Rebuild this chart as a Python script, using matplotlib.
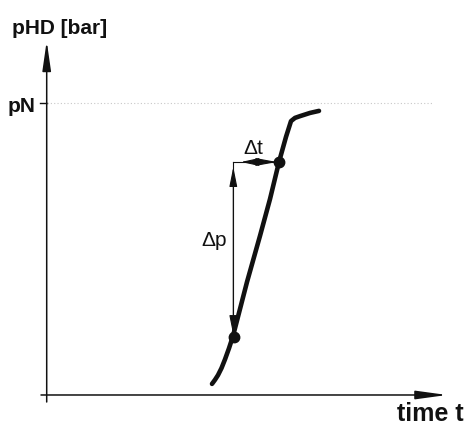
import matplotlib
matplotlib.use("Agg")
import matplotlib.pyplot as plt

# ---- data (t in arbitrary time units, p relative to pN = 1) ----
curve_t = [1.653, 1.683, 1.713, 1.748, 1.783, 1.823, 1.863, 2.003, 2.133, 2.233, 2.323, 2.393, 2.443, 2.483, 2.533, 2.633, 2.723]
curve_p = [0.038, 0.052, 0.068, 0.092, 0.122, 0.160, 0.202, 0.387, 0.545, 0.671, 0.798, 0.884, 0.938, 0.949, 0.955, 0.966, 0.973]
marker_t = [1.868, 2.323]
marker_p = [0.200, 0.798]
pN = 1.0
y_label = "pHD [bar]"
x_label = "time t"
tick_label = "pN"
dp_label = "Δp"
dt_label = "Δt"

FONT = ["Liberation Sans Narrow", "Liberation Sans", "DejaVu Sans"]

fig = plt.figure(figsize=(4.65, 4.27), dpi=100)
ax = fig.add_axes([0, 0, 1, 1])
ax.set_xlim(-0.467, 4.183)
ax.set_ylim(-0.1062, 1.3562)
ax.axis("off")

# axes with arrows
ax.annotate("", xy=(0, 1.212), xytext=(0, -0.024),
            arrowprops=dict(arrowstyle="-|>,head_length=18,head_width=2.6", mutation_scale=1,
                            lw=1.1, color="#111111", shrinkA=0, shrinkB=0))
ax.annotate("", xy=(4.003, 0), xytext=(-0.057, 0),
            arrowprops=dict(arrowstyle="-|>,head_length=19,head_width=2.6", mutation_scale=1,
                            lw=1.1, color="#111111", shrinkA=0, shrinkB=0))

# pN tick and dotted reference line
ax.plot([-0.067, 0], [pN, pN], color="#111111", lw=1.0)
ax.plot([0.0, 3.853], [pN, pN], color="#c8c8c8", lw=0.8, ls=(0, (1, 2)))

# curve
ax.plot(curve_t, curve_p, color="#111111", lw=3.3, solid_capstyle="round", solid_joinstyle="round", zorder=3)
ax.plot(marker_t, marker_p, "o", color="#111111", ms=7.5, zorder=4)

# delta p dimension
xt = marker_t[0] - 0.002
ax.plot([xt, xt], [marker_p[0], marker_p[1]], color="#111111", lw=0.8)
ax.annotate("", xy=(xt, 0.781), xytext=(xt, 0.205),
            arrowprops=dict(arrowstyle="<|-|>,head_length=12,head_width=2.4", mutation_scale=1,
                            lw=0.8, color="#111111", shrinkA=0, shrinkB=0))

# delta t dimension
ax.plot([xt, marker_t[1]], [marker_p[1], marker_p[1]], color="#111111", lw=0.8)
ax.annotate("", xy=(1.943, marker_p[1]), xytext=(2.100, marker_p[1]),
            arrowprops=dict(arrowstyle="-|>,head_length=11,head_width=2.4", mutation_scale=1,
                            lw=0.8, color="#111111", shrinkA=0, shrinkB=0))
ax.annotate("", xy=(2.303, marker_p[1]), xytext=(2.108, marker_p[1]),
            arrowprops=dict(arrowstyle="-|>,head_length=13,head_width=2.4", mutation_scale=1,
                            lw=0.8, color="#111111", shrinkA=0, shrinkB=0))

# texts
ax.text(-0.347, 1.257, y_label, family=FONT, weight="bold", fontsize=15, ha="left", va="center", color="#111111")
ax.text(-0.117, 0.993, tick_label, family=FONT, weight="bold", fontsize=15, ha="right", va="center", color="#111111")
ax.text(3.503, -0.062, x_label, family=FONT, weight="bold", fontsize=18, ha="left", va="center", color="#111111")
ax.text(2.063, 0.849, dt_label, family=FONT, fontsize=15, ha="center", va="center", color="#111111")
ax.text(1.673, 0.534, dp_label, family=FONT, fontsize=15, ha="center", va="center", color="#111111")

fig.savefig("out.png", dpi=100)
